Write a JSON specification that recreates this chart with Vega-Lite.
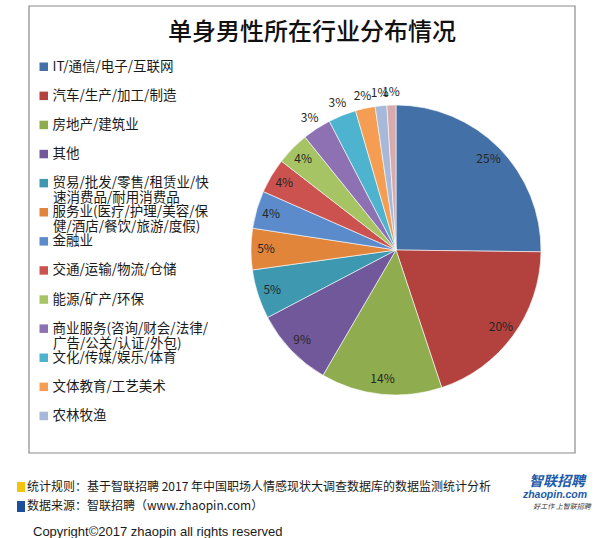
{
  "$schema": "https://vega.github.io/schema/vega-lite/v6.json",
  "width": 290,
  "height": 290,
  "autosize": {"type": "none"},
  "padding": {"left": 251, "top": 105, "right": 59, "bottom": 143},
  "background": "#ffffff",
  "config": {"view": {"stroke": null}},
  "layer": [
    {
      "data": {"values": [{"k": 1}]},
      "mark": {"type": "rect", "x": -222, "y": -99, "x2": 324, "y2": 348, "fillOpacity": 0, "stroke": "#8a8a8a", "strokeWidth": 1.2},
      "encoding": {}
    },
    {
      "data": {"values": [{"t": "单身男性所在行业分布情况"}]},
      "mark": {"type": "text", "x": 61, "y": -72, "align": "center", "baseline": "middle", "font": "Noto Sans CJK SC", "fontSize": 24, "fontWeight": 500, "color": "#111111"},
      "encoding": {"text": {"field": "t"}}
    },
    {
      "data": {"values": [
        {"name": "IT/通信/电子/互联网", "share": 25.2, "pct": "25%", "idx": 1},
        {"name": "汽车/生产/加工/制造", "share": 19.7, "pct": "20%", "idx": 2},
        {"name": "房地产/建筑业", "share": 13.5, "pct": "14%", "idx": 3},
        {"name": "其他", "share": 8.9, "pct": "9%", "idx": 4},
        {"name": "贸易/批发/零售/租赁业/快速消费品/耐用消费品", "share": 5.5, "pct": "5%", "idx": 5},
        {"name": "服务业(医疗/护理/美容/保健/酒店/餐饮/旅游/度假)", "share": 4.6, "pct": "5%", "idx": 6},
        {"name": "金融业", "share": 4.2, "pct": "4%", "idx": 7},
        {"name": "交通/运输/物流/仓储", "share": 3.9, "pct": "4%", "idx": 8},
        {"name": "能源/矿产/环保", "share": 3.7, "pct": "4%", "idx": 9},
        {"name": "商业服务(咨询/财会/法律/广告/公关/认证/外包)", "share": 3.2, "pct": "3%", "idx": 10},
        {"name": "文化/传媒/娱乐/体育", "share": 3.1, "pct": "3%", "idx": 11},
        {"name": "文体教育/工艺美术", "share": 2.2, "pct": "2%", "idx": 12},
        {"name": "农林牧渔", "share": 1.3, "pct": "1%", "idx": 13},
        {"name": "其他行业", "share": 1.0, "pct": "1%", "idx": 14}
      ]},
      "encoding": {
        "theta": {"field": "share", "type": "quantitative", "stack": true},
        "order": {"field": "idx", "type": "quantitative"}
      },
      "layer": [
        {
          "mark": {"type": "arc", "stroke": "#ffffff", "strokeWidth": 0.6},
          "encoding": {
            "color": {
              "field": "name",
              "type": "nominal",
              "sort": null,
              "scale": {
                "domain": ["IT/通信/电子/互联网", "汽车/生产/加工/制造", "房地产/建筑业", "其他", "贸易/批发/零售/租赁业/快速消费品/耐用消费品", "服务业(医疗/护理/美容/保健/酒店/餐饮/旅游/度假)", "金融业", "交通/运输/物流/仓储", "能源/矿产/环保", "商业服务(咨询/财会/法律/广告/公关/认证/外包)", "文化/传媒/娱乐/体育", "文体教育/工艺美术", "农林牧渔", "其他行业"],
                "range": ["#4470A8", "#B3413E", "#8FAD4F", "#71589A", "#3E98B0", "#E0853A", "#5B8BCB", "#CC5250", "#A6C463", "#8D71B3", "#4DB3CE", "#F59D52", "#A8B8D9", "#D8AAAB"]
              },
              "legend": {
                "orient": "none",
                "legendX": -214,
                "legendY": -45,
                "title": null,
                "padding": 0,
                "values": ["IT/通信/电子/互联网", "汽车/生产/加工/制造", "房地产/建筑业", "其他", "贸易/批发/零售/租赁业/快速消费品/耐用消费品", "服务业(医疗/护理/美容/保健/酒店/餐饮/旅游/度假)", "金融业", "交通/运输/物流/仓储", "能源/矿产/环保", "商业服务(咨询/财会/法律/广告/公关/认证/外包)", "文化/传媒/娱乐/体育", "文体教育/工艺美术", "农林牧渔"],
                "labelExpr": "datum.label == '贸易/批发/零售/租赁业/快速消费品/耐用消费品' ? '贸易/批发/零售/租赁业/快' : datum.label == '服务业(医疗/护理/美容/保健/酒店/餐饮/旅游/度假)' ? '服务业(医疗/护理/美容/保' : datum.label == '商业服务(咨询/财会/法律/广告/公关/认证/外包)' ? '商业服务(咨询/财会/法律/' : datum.label",
                "labelFont": "Noto Sans CJK SC",
                "labelFontSize": 13.5,
                "labelColor": "#1a1a1a",
                "labelLimit": 300,
                "labelOffset": 2,
                "rowPadding": 14.1,
                "symbolType": "square",
                "symbolSize": 72,
                "symbolStrokeWidth": 0
              }
            }
          }
        },
        {
          "mark": {"type": "text", "radius": 130, "font": "Noto Sans CJK SC", "fontSize": 12, "color": "#262626"},
          "encoding": {
            "detail": {"field": "name"},
            "text": {"condition": {"test": "datum.share >= 3.5", "field": "pct"}, "value": ""}
          }
        },
        {
          "mark": {"type": "text", "radius": 158, "font": "Noto Sans CJK SC", "fontSize": 12, "color": "#262626"},
          "encoding": {
            "detail": {"field": "name"},
            "text": {"condition": {"test": "datum.share < 3.5", "field": "pct"}, "value": ""}
          }
        }
      ]
    },
    {
      "data": {"values": [{"t": "速消费品/耐用消费品"}]},
      "mark": {"type": "text", "x": -198, "y": 92.5, "align": "left", "baseline": "middle", "font": "Noto Sans CJK SC", "fontSize": 13.5, "color": "#1a1a1a"},
      "encoding": {"text": {"field": "t"}}
    },
    {
      "data": {"values": [{"t": "健/酒店/餐饮/旅游/度假)"}]},
      "mark": {"type": "text", "x": -198, "y": 122, "align": "left", "baseline": "middle", "font": "Noto Sans CJK SC", "fontSize": 13.5, "color": "#1a1a1a"},
      "encoding": {"text": {"field": "t"}}
    },
    {
      "data": {"values": [{"t": "广告/公关/认证/外包)"}]},
      "mark": {"type": "text", "x": -198, "y": 238.5, "align": "left", "baseline": "middle", "font": "Noto Sans CJK SC", "fontSize": 13.5, "color": "#1a1a1a"},
      "encoding": {"text": {"field": "t"}}
    },
    {
      "data": {"values": [{"k": 1}]},
      "mark": {"type": "rect", "x": -234, "y": 377, "x2": -226, "y2": 387, "fill": "#F2C311"},
      "encoding": {}
    },
    {
      "data": {"values": [{"k": 1}]},
      "mark": {"type": "rect", "x": -234, "y": 396, "x2": -226, "y2": 407, "fill": "#1F4E9C"},
      "encoding": {}
    },
    {
      "data": {"values": [{"t": "统计规则：基于智联招聘 2017 年中国职场人情感现状大调查数据库的数据监测统计分析"}]},
      "mark": {"type": "text", "x": -224, "y": 382, "align": "left", "baseline": "middle", "font": "Noto Sans CJK SC", "fontSize": 12, "color": "#1a1a1a"},
      "encoding": {"text": {"field": "t"}}
    },
    {
      "data": {"values": [{"t": "数据来源：智联招聘（www.zhaopin.com）"}]},
      "mark": {"type": "text", "x": -224, "y": 401, "align": "left", "baseline": "middle", "font": "Noto Sans CJK SC", "fontSize": 12, "color": "#1a1a1a"},
      "encoding": {"text": {"field": "t"}}
    },
    {
      "data": {"values": [{"k": 1}]},
      "mark": {"type": "rule", "x": -234, "x2": 339, "y": 416, "y2": 416, "color": "#111111", "strokeWidth": 1.5},
      "encoding": {}
    },
    {
      "data": {"values": [{"t": "Copyright©2017 zhaopin all rights reserved"}]},
      "mark": {"type": "text", "x": -218, "y": 431, "align": "left", "baseline": "alphabetic", "font": "Liberation Sans", "fontSize": 13, "color": "#1a1a1a"},
      "encoding": {"text": {"field": "t"}}
    },
    {
      "data": {"values": [{"t": "智联招聘"}]},
      "mark": {"type": "text", "x": 306, "y": 377, "align": "center", "baseline": "middle", "font": "Noto Sans CJK SC", "fontSize": 14, "fontWeight": "bold", "fontStyle": "italic", "color": "#1E5BAA"},
      "encoding": {"text": {"field": "t"}}
    },
    {
      "data": {"values": [{"t": "zhaopin.com"}]},
      "mark": {"type": "text", "x": 304, "y": 390, "align": "center", "baseline": "middle", "font": "Liberation Sans", "fontSize": 10.5, "fontWeight": "bold", "fontStyle": "italic", "color": "#1E5BAA"},
      "encoding": {"text": {"field": "t"}}
    },
    {
      "data": {"values": [{"t": "好工作  上智联招聘"}]},
      "mark": {"type": "text", "x": 311, "y": 402, "align": "center", "baseline": "middle", "font": "Noto Sans CJK SC", "fontSize": 7, "fontStyle": "italic", "color": "#333333"},
      "encoding": {"text": {"field": "t"}}
    }
  ]
}
